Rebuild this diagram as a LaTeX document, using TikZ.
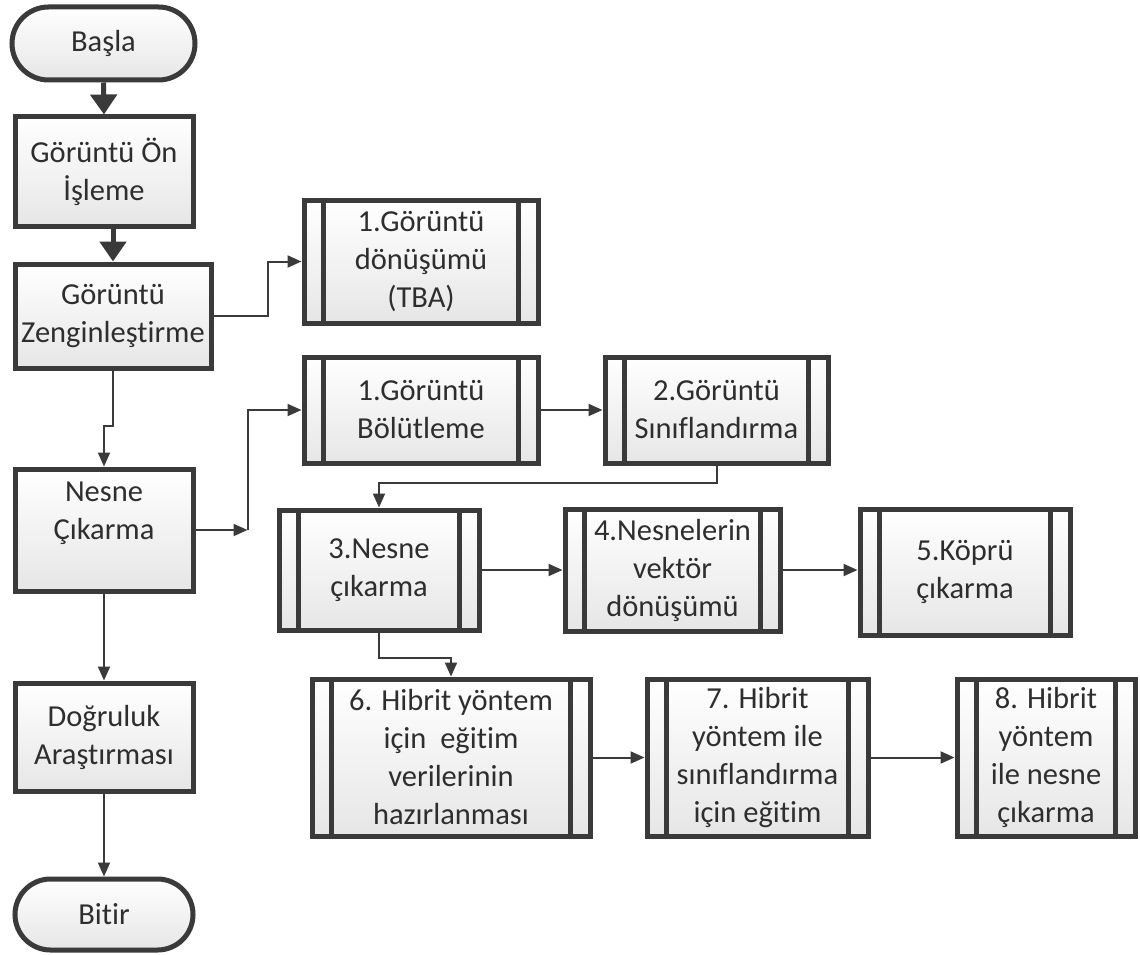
\documentclass[tikz,border=0pt]{standalone}
\usepackage{fontspec}
\setmainfont{Carlito}[Ligatures={NoCommon}]
\usetikzlibrary{arrows.meta,shapes.misc,shadows,calc}
\definecolor{bord}{HTML}{3A3A3A}
\definecolor{txt}{HTML}{2E2E2E}
\definecolor{fillbot}{HTML}{E6E6E6}
\tikzset{
  box/.style={draw=bord, line width=5pt, top color=white, bottom color=fillbot,
    inner sep=0pt, align=center, text=txt, font=\fontsize{30.5}{38}\selectfont,
    drop shadow={opacity=0.15, shadow xshift=2pt, shadow yshift=-2pt}},
  term/.style={box, rounded rectangle},
  innerline/.style={draw=bord, line width=4.5pt},
  conn/.style={draw=bord, line width=2pt, -{Triangle[length=14pt,width=12pt]}},
  thickconn/.style={draw=bord, line width=5pt, -{Triangle[length=20pt,width=26pt]}}
}
\newcommand\subproc[6]{%
  \node[box, minimum width=#4pt, minimum height=#5pt] (#1) at (#2,#3) {#6};
  \draw[innerline] ([xshift=22pt]#1.north west) -- ([xshift=22pt]#1.south west);
  \draw[innerline] ([xshift=-22pt]#1.north east) -- ([xshift=-22pt]#1.south east);
}
\begin{document}
\begin{tikzpicture}[x=1pt,y=-1pt]
\useasboundingbox[fill=white] (0,0) rectangle (1140,955);
% main column
\node[term, minimum width=183pt, minimum height=73pt] (basla) at (103.5,43.5) {Başla};
\node[box, minimum width=178pt, minimum height=109pt] (on) at (104,171.5) {Görüntü Ön\\İşleme};
\node[box, minimum width=196pt, minimum height=104pt] (zen) at (113,316) {Görüntü\\Zenginleştirme};
\node[box, minimum width=178pt, minimum height=122pt] (nes) at (104,530) {Nesne\\Çıkarma\\~};
\node[box, minimum width=178pt, minimum height=108pt] (dog) at (104,737) {Doğruluk\\Araştırması};
\node[term, minimum width=178pt, minimum height=71pt] (bit) at (104,914.5) {Bitir};
% sub processes
\subproc{tba}{421}{261.5}{234}{123}{1.Görüntü\\dönüşümü\\(TBA)}
\subproc{bol}{421}{410}{234}{106}{1.Görüntü\\Bölütleme}
\subproc{sin}{716.5}{410}{223}{106}{2.Görüntü\\Sınıflandırma}
\subproc{nthree}{379}{570}{200}{120}{3.Nesne\\çıkarma}
\subproc{vfour}{672.5}{570}{215}{122}{4.Nesnelerin\\vektör\\dönüşümü}
\subproc{kfive}{965}{572}{210}{126}{5.Köprü\\çıkarma}
\subproc{hsix}{451}{757.5}{278}{157}{6. Hibrit yöntem\\için~~eğitim\\verilerinin\\hazırlanması}
\subproc{hseven}{757.5}{757.5}{221}{157}{7. Hibrit\\yöntem ile\\sınıflandırma\\için eğitim}
\subproc{height}{1046}{757.5}{178}{157}{8. Hibrit\\yöntem\\ile nesne\\çıkarma}
% connectors
\draw[thickconn] (basla.south) -- (on.north);
\draw[thickconn] (zen.north |- on.south) -- (zen.north);
\draw[conn] (zen.south) -- ++(0,55) -| (nes.north);
\draw[conn] (nes.south) -- (dog.north);
\draw[conn] (dog.south) -- (bit.north);
\draw[conn] (zen.east) -- ++(54,0) |- (tba.west);
\draw[conn] (nes.east) -- ++(52,0) coordinate (jn);
\draw[conn] (jn) |- (bol.west);
\draw[conn] (bol.east) -- (sin.west);
\draw[conn] (sin.south) -- ++(0,17) -| (nthree.north);
\draw[conn] (nthree.east) -- (vfour.west);
\draw[conn] (vfour.east) -- (vfour.east -| kfive.west);
\draw[conn] (nthree.south) -- ++(0,25) -| (hsix.north);
\draw[conn] (hsix.east) -- (hseven.west);
\draw[conn] (hseven.east) -- (height.west);
\end{tikzpicture}
\end{document}
